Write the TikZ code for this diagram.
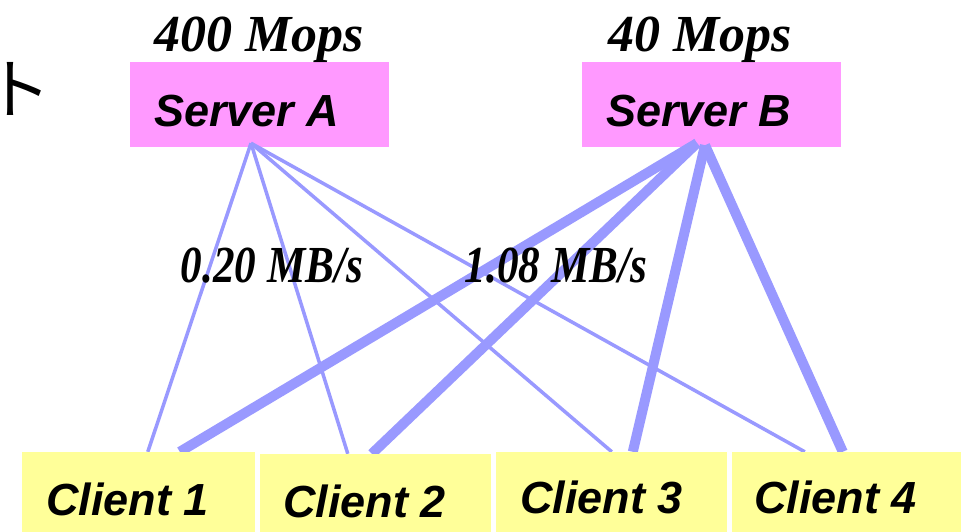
\documentclass[tikz,border=0pt]{standalone}
\usepackage{fontspec}
\setmainfont{Liberation Serif}
\setsansfont{Liberation Sans}
\newfontfamily\jpfont{Noto Sans CJK JP}
\usetikzlibrary{calc}
\definecolor{srvpink}{HTML}{FF99FF}
\definecolor{clyellow}{HTML}{FFFF99}
\definecolor{linkblue}{HTML}{9999FF}

\begin{document}
\begin{tikzpicture}[x=1pt,y=-1pt,
		srvbox/.style={fill=srvpink, minimum width=259pt, minimum height=85pt, inner sep=0pt},
		clbox/.style={fill=clyellow, minimum height=80pt, inner sep=0pt},
		boxtext/.style={anchor=base west, inner sep=0pt, font=\fontsize{45}{50}\selectfont\sffamily\bfseries\itshape},
		ratetext/.style={anchor=base, inner sep=0pt, font=\fontsize{52}{56}\selectfont\bfseries\itshape},
		thinlink/.style={draw=linkblue, line width=3.5pt},
		thicklink/.style={draw=linkblue, line width=10pt}]
			\useasboundingbox (0,0) rectangle (961,532);
			
			% servers
			\node[srvbox] (srvA) at (259.5,104.5) {};
			\node[srvbox] (srvB) at (711.5,104.5) {};
			\node[boxtext] (srvAtext) at ([shift={(24,-21)}]srvA.south west) {Server A};
			\node[boxtext] (srvBtext) at ([shift={(24,-21)}]srvB.south west) {Server B};
			\node[ratetext] (opsA) at ([shift={(0,-10)}]srvA.north) {400 Mops};
			\node[ratetext] (opsB) at ([shift={(-11.5,-10)}]srvB.north) {40 Mops};
			\node[anchor=base west, inner sep=0pt, font=\fontsize{66}{70}\selectfont\jpfont] (cut) at (-15,114) {ト};
			
			\coordinate (pa) at ([shift={(-8.5,-4)}]srvA.south);
			\coordinate (pb1) at ([shift={(-14.5,-4)}]srvB.south);
			\coordinate (pb2) at ([shift={(-6.5,-2)}]srvB.south);
			
			% clients (placed first so the links can use them, filled later)
			\path (138.5,492) node[clbox, minimum width=233pt] (cl1) {};
			\path (375.5,493) node[clbox, minimum width=231pt, minimum height=78pt] (cl2) {};
			\path (611.5,492) node[clbox, minimum width=231pt] (cl3) {};
			\path (846.5,492) node[clbox, minimum width=229pt] (cl4) {};
			
			% links
			\draw[thinlink] (pa) -- ([xshift=126pt]cl1.north west);
			\draw[thinlink] (pa) -- ([xshift=88pt]cl2.north west);
			\draw[thinlink] (pa) -- ([xshift=116pt]cl3.north west);
			\draw[thinlink] (pa) -- ([xshift=73pt]cl4.north west);
			\draw[thicklink] (pb1) -- ([xshift=158pt]cl1.north west);
			\draw[thicklink] (pb1) -- ([xshift=112pt]cl2.north west);
			\draw[thicklink] (pb2) -- ([xshift=137pt]cl3.north west);
			\draw[thicklink] (pb2) -- ([xshift=111pt]cl4.north west);
			
			% client boxes on top of the links
			\foreach \c in {cl1,cl2,cl3,cl4}
				\fill[clyellow] (\c.north west) rectangle (\c.south east);
			\node[boxtext] (cl1text) at ([shift={(24,-17)}]cl1.south west) {Client 1};
			\node[boxtext] (cl2text) at ([shift={(23,-15)}]cl2.south west) {Client 2};
			\node[boxtext] (cl3text) at ([shift={(24,-19)}]cl3.south west) {Client 3};
			\node[boxtext] (cl4text) at ([shift={(22,-19)}]cl4.south west) {Client 4};
			
			\node[ratetext] (rateA) at (272,282) {\scalebox{0.83}[1]{0.20 MB/s}};
			\node[ratetext] (rateB) at (556,282) {\scalebox{0.83}[1]{1.08 MB/s}};
		\end{tikzpicture}
\end{document}
